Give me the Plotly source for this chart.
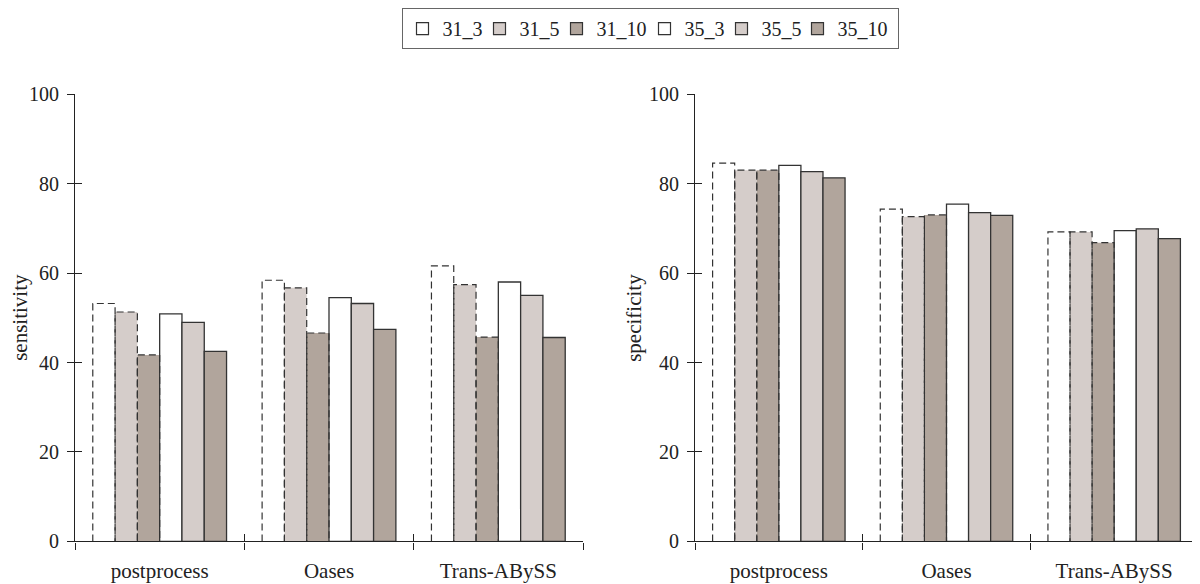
import plotly.graph_objects as go

categories = ["postprocess", "Oases", "Trans-ABySS"]
series_names = ["31_3", "31_5", "31_10", "35_3", "35_5", "35_10"]

sensitivity = {
    "31_3": [53.2, 58.4, 61.6],
    "31_5": [51.3, 56.7, 57.4],
    "31_10": [41.7, 46.6, 45.7],
    "35_3": [50.9, 54.5, 58.0],
    "35_5": [49.0, 53.2, 55.0],
    "35_10": [42.5, 47.4, 45.6],
}
specificity = {
    "31_3": [84.6, 74.3, 69.2],
    "31_5": [83.0, 72.6, 69.2],
    "31_10": [83.0, 73.0, 66.8],
    "35_3": [84.1, 75.4, 69.5],
    "35_5": [82.7, 73.5, 69.9],
    "35_10": [81.3, 72.9, 67.7],
}
y_ticks = [0, 20, 40, 60, 80, 100]

WHITE = "#ffffff"
LIGHT = "#d5cdca"
DARK = "#b1a59c"
EDGE = "#333333"
fills = {"31_3": WHITE, "31_5": LIGHT, "31_10": DARK,
         "35_3": WHITE, "35_5": LIGHT, "35_10": DARK}
dashed = {"31_3", "31_5", "31_10"}
legend_widths = {"31_3": 32, "31_5": 32, "31_10": 43,
                 "35_3": 32, "35_5": 31, "35_10": 55}

GROUP = 0.79
BW = GROUP / len(series_names)
FONT = "Liberation Serif, Times New Roman, serif"

# page has an 8px body margin; work in page pixels and convert
W, H, OFF = 1192, 576, 8
def px(x):
    return (x - OFF) / W
def py(y):
    return 1 - (y - OFF) / H

fig = go.Figure()

panels = [
    (sensitivity, "x", "y", "x3", "y3"),
    (specificity, "x2", "y2", "x4", "y4"),
]

for pi, (data, xa, ya, xo, yo) in enumerate(panels):
    for si, name in enumerate(series_names):
        off = -GROUP / 2 + si * BW
        is_dash = name in dashed
        fig.add_trace(go.Bar(
            x=categories, y=data[name], name=name,
            xaxis=xa, yaxis=ya,
            offset=off, width=BW,
            marker=dict(color=fills[name],
                        line=dict(color=EDGE, width=0 if is_dash else 1.3)),
            showlegend=False, hoverinfo="skip",
        ))
    # dashed outlines for the 31_* series, derived from data and bar positions
    for si, name in enumerate(series_names):
        if name not in dashed:
            continue
        off = -GROUP / 2 + si * BW
        xs, ys = [], []
        for ci, v in enumerate(data[name]):
            left = ci + off
            right = left + BW
            xs += [left, left, right, right, None]
            ys += [0, v, v, 0, None]
        fig.add_trace(go.Scatter(
            x=xs, y=ys, mode="lines", xaxis=xo, yaxis=yo,
            line=dict(color=EDGE, width=1.2, dash="7px,4px"),
            showlegend=False, hoverinfo="skip",
        ))

# legend-only entries
for name in series_names:
    fig.add_trace(go.Bar(
        x=[None], y=[None], name=name, xaxis="x", yaxis="y",
        marker=dict(color=fills[name], line=dict(color=EDGE, width=1.2)),
        legendwidth=legend_widths[name],
        showlegend=True, hoverinfo="skip",
    ))

dom_left = [px(75), px(583)]
dom_right = [px(695), px(1198)]
ydom = [py(541), py(89)]

def main_x(dom):
    return dict(domain=dom, type="category", range=[-0.5, 2.5],
                showline=True, linecolor="#222", linewidth=1.2,
                ticks="outside", tickson="boundaries", ticklen=7,
                tickcolor="#222", tickwidth=1.2,
                tickfont=dict(family=FONT, size=21, color="#222"),
                ticklabelstandoff=10, showgrid=False, zeroline=False,
                automargin=False, fixedrange=True)

def main_y(anchor):
    return dict(domain=ydom, range=[0, 100], tickvals=y_ticks,
                showline=True, linecolor="#222", linewidth=1.2,
                ticks="outside", ticklen=7, tickcolor="#222", tickwidth=1.2,
                tickfont=dict(family=FONT, size=20, color="#222"),
                ticklabelstandoff=4,
                showgrid=False, zeroline=False, anchor=anchor,
                automargin=False, fixedrange=True)

def over_x(dom, over, anchor):
    return dict(domain=dom, overlaying=over, anchor=anchor, range=[-0.5, 2.5],
                tickvals=[-0.5, 0.5, 1.5, 2.5], ticks="inside", ticklen=7,
                tickcolor="#222", tickwidth=1.2, showticklabels=False,
                showline=False, showgrid=False, zeroline=False,
                automargin=False, fixedrange=True)

def over_y(over, anchor):
    return dict(domain=ydom, overlaying=over, anchor=anchor, range=[0, 100],
                tickvals=y_ticks, ticks="inside", ticklen=7,
                tickcolor="#222", tickwidth=1.2, showticklabels=False,
                showline=False, showgrid=False, zeroline=False,
                automargin=False, fixedrange=True)

fig.update_layout(
    width=W, height=H,
    margin=dict(l=0, r=0, t=0, b=0),
    paper_bgcolor="white", plot_bgcolor="rgba(0,0,0,0)",
    barmode="overlay",
    font=dict(family=FONT, color="#222"),
    xaxis=main_x(dom_left) | dict(anchor="y"),
    yaxis=main_y("x"),
    xaxis2=main_x(dom_right) | dict(anchor="y2"),
    yaxis2=main_y("x2"),
    xaxis3=over_x(dom_left, "x", "y3"),
    yaxis3=over_y("y", "x3"),
    xaxis4=over_x(dom_right, "x2", "y4"),
    yaxis4=over_y("y2", "x4"),
    legend=dict(orientation="h", x=px(650), y=py(2), xanchor="center", yanchor="top",
                bordercolor="#666", borderwidth=1, bgcolor="white",
                font=dict(family=FONT, size=20, color="#222"),
                itemwidth=30, tracegroupgap=0),
    annotations=[
        dict(text="sensitivity", textangle=-90, x=px(20), y=py(315),
             xref="paper", yref="paper", xanchor="center", yanchor="middle",
             showarrow=False, font=dict(family=FONT, size=21, color="#222")),
        dict(text="specificity", textangle=-90, x=px(634), y=py(315),
             xref="paper", yref="paper", xanchor="center", yanchor="middle",
             showarrow=False, font=dict(family=FONT, size=21, color="#222")),
    ],
)

fig.write_html("out.html")
